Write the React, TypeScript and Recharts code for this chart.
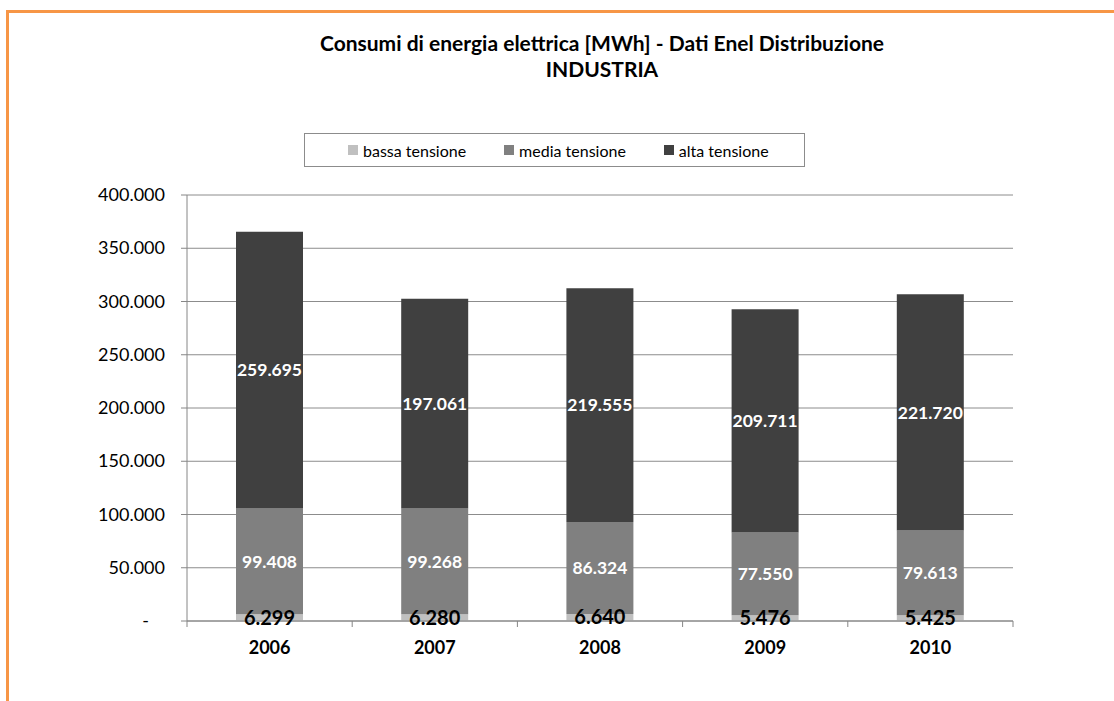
import React from 'react';
import { BarChart, Bar, XAxis, YAxis, CartesianGrid, LabelList } from 'recharts';

const YEARS = ['2006', '2007', '2008', '2009', '2010'];
const BASSA = [6299, 6280, 6640, 5476, 5425];
const MEDIA = [99408, 99268, 86324, 77550, 79613];
const ALTA = [259695, 197061, 219555, 209711, 221720];
const Y_TICKS = [0, 50000, 100000, 150000, 200000, 250000, 300000, 350000, 400000];

const SERIES = [
  { key: 'bassa', name: 'bassa tensione', color: '#c0c0c0' },
  { key: 'media', name: 'media tensione', color: '#808080' },
  { key: 'alta', name: 'alta tensione', color: '#404040' },
];

const data = YEARS.map((year, i) => ({ year, bassa: BASSA[i], media: MEDIA[i], alta: ALTA[i] }));

const FONT = 'Lato, "Open Sans", sans-serif';
const W = 1114;
const H = 701;
const PLOT_LEFT = 187;
const PLOT_RIGHT = 1013;
const BAND = (PLOT_RIGHT - PLOT_LEFT) / YEARS.length;

// italian thousands separator
const fmt = (v: number) => String(Math.round(v)).replace(/\B(?=(\d{3})+(?!\d))/g, '.');

const YTick = ({ x, y, payload }: any) => (
  <text
    x={payload.value === 0 ? x - 30 : x - 14}
    y={y}
    dy={6}
    textAnchor="end"
    fontFamily={FONT}
    fontSize={18}
    fill="#000"
  >
    {payload.value === 0 ? '-' : fmt(payload.value)}
  </text>
);

const XTick = ({ x, y, payload, index }: any) => (
  <g>
    <line x1={x - BAND / 2} x2={x - BAND / 2} y1={y - 8} y2={y - 2} stroke="#868686" />
    {index === YEARS.length - 1 && (
      <line x1={x + BAND / 2} x2={x + BAND / 2} y1={y - 8} y2={y - 2} stroke="#868686" />
    )}
    <text x={x} y={y + 25} textAnchor="middle" fontFamily={FONT} fontSize={18} fontWeight="bold" fill="#000">
      {payload.value}
    </text>
  </g>
);

// small bottom segment: black label drawn by hand so it stays bold
const BassaLabel = ({ x, y, width, height, value }: any) => (
  <text
    x={x + width / 2}
    y={y + height / 2}
    dy={7}
    textAnchor="middle"
    fontFamily={FONT}
    fontSize={20}
    fontWeight="bold"
    fill="#000"
  >
    {fmt(Number(value))}
  </text>
);

export default function App() {
  return (
    <div style={{ position: 'absolute', left: 0, top: 0, width: W, height: H, background: '#fff' }}>
      <div style={{ position: 'absolute', left: 6, top: 10, width: W - 6, height: 3, background: '#F79646' }} />
      <div style={{ position: 'absolute', left: 6, top: 10, width: 3, height: H - 10, background: '#F79646' }} />
      <div
        style={{
          position: 'absolute',
          left: 0,
          width: 1204,
          top: 30,
          textAlign: 'center',
          fontFamily: FONT,
          fontWeight: 'bold',
          fontSize: 21,
          lineHeight: '26px',
          color: '#000',
        }}
      >
        <div>Consumi di energia elettrica [MWh] - Dati Enel Distribuzione</div>
        <div>INDUSTRIA</div>
      </div>
      <div
        style={{
          position: 'absolute',
          left: 304,
          top: 133,
          width: 501,
          height: 34,
          border: '1px solid #8c8c8c',
          boxSizing: 'border-box',
          display: 'flex',
          alignItems: 'center',
          fontFamily: FONT,
          fontSize: 16,
          color: '#000',
        }}
      >
        {SERIES.map((s, i) => (
          <div key={s.key} style={{ display: 'flex', alignItems: 'center', marginLeft: i === 0 ? 43 : 38 }}>
            <span style={{ width: 10, height: 10, background: s.color, display: 'inline-block', marginRight: 5 }} />
            <span>{s.name}</span>
          </div>
        ))}
      </div>
      <div style={{ position: 'absolute', left: 0, top: 0 }}>
        <BarChart
          width={W}
          height={H}
          data={data}
          margin={{ top: 195, right: W - PLOT_RIGHT, left: 0, bottom: 49 }}
          barSize={67}
        >
          <CartesianGrid vertical={false} stroke="#8c8c8c" />
          <XAxis
            dataKey="year"
            axisLine={{ stroke: '#868686' }}
            tickLine={false}
            tick={<XTick />}
            height={31}
            interval={0}
          />
          <YAxis
            width={PLOT_LEFT}
            domain={[0, 400000]}
            ticks={Y_TICKS}
            interval={0}
            axisLine={{ stroke: '#868686' }}
            tickLine={{ stroke: '#868686' }}
            tickSize={6}
            tick={<YTick />}
          />
          <Bar dataKey="bassa" name="bassa tensione" stackId="a" fill="#c0c0c0" isAnimationActive={false}>
            <LabelList dataKey="bassa" content={<BassaLabel />} />
          </Bar>
          <Bar dataKey="media" name="media tensione" stackId="a" fill="#808080" isAnimationActive={false}>
            <LabelList
              dataKey="media"
              position="center"
              formatter={(v: any) => fmt(Number(v))}
              fill="#fff"
              fontFamily={FONT}
              fontSize={17.5}
              style={{ fontWeight: 700 }}
            />
          </Bar>
          <Bar dataKey="alta" name="alta tensione" stackId="a" fill="#404040" isAnimationActive={false}>
            <LabelList
              dataKey="alta"
              position="center"
              formatter={(v: any) => fmt(Number(v))}
              fill="#fff"
              fontFamily={FONT}
              fontSize={17.5}
              style={{ fontWeight: 700 }}
            />
          </Bar>
        </BarChart>
      </div>
    </div>
  );
}
